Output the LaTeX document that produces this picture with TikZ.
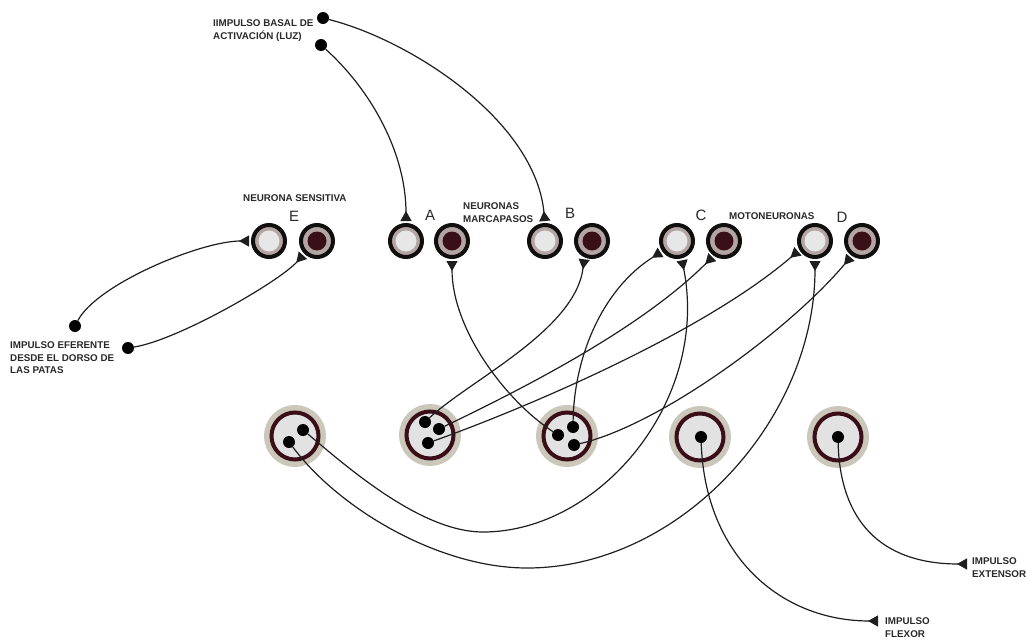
\documentclass[tikz,border=0pt]{standalone}
\usepackage{fontspec}
\setmainfont{Liberation Sans}
\usetikzlibrary{arrows.meta}
\definecolor{NEUROink}{RGB}{30,30,30}
\definecolor{NEUROring}{RGB}{17,14,14}
\definecolor{NEUROmauve}{RGB}{180,165,165}
\definecolor{NEUROpale}{RGB}{232,231,231}
\definecolor{NEUROdark}{RGB}{58,16,24}
\definecolor{MOTOhalo}{RGB}{203,199,187}
\definecolor{MOTOcore}{RGB}{226,226,226}
\definecolor{MOTOring}{RGB}{58,14,22}
\definecolor{TXTgray}{RGB}{40,40,40}

\begin{document}
\begin{tikzpicture}[x=1pt,y=-1pt,
    cell/.style={circle,inner sep=0pt,minimum size=32pt,line width=4pt,draw=NEUROring,fill=NEUROmauve},
    lightcell/.style={cell,path picture={\fill[NEUROpale] (path picture bounding box.center) circle (10.5pt);}},
    darkcell/.style={cell,path picture={\fill[NEUROdark] (path picture bounding box.center) circle (9.5pt);}},
    motor/.style={circle,inner sep=0pt,minimum size=47pt,line width=4pt,draw=MOTOring,fill=MOTOcore,
        preaction={draw=MOTOhalo,line width=15pt}},
    bouton/.style={circle,inner sep=0pt,minimum size=12pt,fill=black},
    syn/.style={draw=NEUROink,line width=1.2pt,-{Triangle[reversed,length=10pt,width=11pt]},shorten >=2pt},
    lbl/.style={font=\fontsize{9.8}{12.5}\selectfont\bfseries,text=TXTgray,align=left,inner sep=0pt},
    letter/.style={font=\fontsize{15}{15}\selectfont,text=TXTgray,inner sep=0pt}]
    \useasboundingbox (0,0) rectangle (1026,642);

    \node[lightcell] (El) at (269,241) {};
    \node[darkcell] (Ed) at (317,241) {};
    \node[lightcell] (Al) at (406,241) {};
    \node[darkcell] (Ad) at (452,241) {};
    \node[lightcell] (Bl) at (545,241) {};
    \node[darkcell] (Bd) at (592,241) {};
    \node[lightcell] (Cl) at (677,241) {};
    \node[darkcell] (Cd) at (724,241) {};
    \node[lightcell] (Dl) at (815,241) {};
    \node[darkcell] (Dd) at (862,241) {};

    \node[letter] (tE) at (294,216) {E};
    \node[letter] (tA) at (430,215) {A};
    \node[letter] (tB) at (570,213) {B};
    \node[letter] (tC) at (701,215) {C};
    \node[letter] (tD) at (842,217) {D};

    \node[motor] (M1) at (295,436) {};
    \node[motor] (M2) at (430,435) {};
    \node[motor] (M3) at (567,436) {};
    \node[motor] (M4) at (700,437) {};
    \node[motor] (M5) at (838,437) {};

    \node[bouton] (m1a) at (289,442) {};
    \node[bouton] (m1b) at (303,430) {};
    \node[bouton] (m2a) at (425,422) {};
    \node[bouton] (m2b) at (439,429) {};
    \node[bouton] (m2c) at (428,443) {};
    \node[bouton] (m3a) at (558,435) {};
    \node[bouton] (m3b) at (573,427) {};
    \node[bouton] (m3c) at (574,445) {};
    \node[bouton] (m4) at (701,437) {};
    \node[bouton] (m5) at (838,437) {};

    \node[bouton] (luzB) at (323,18) {};
    \node[bouton] (luzA) at (321,45) {};
    \node[bouton] (patasE) at (75,326) {};
    \node[bouton] (patasD) at (128,348) {};
    \coordinate (flx) at (878,621);
    \coordinate (ext) at (967,564);

    \node[lbl,anchor=north west] (luzlbl) at (213,19.5) {IIMPULSO BASAL DE\\ACTIVACIÓN (LUZ)};
    \node[lbl,anchor=west] (senslbl) at (243,198) {NEURONA SENSITIVA};
    \node[lbl,anchor=north west] (marclbl) at (463,202.5) {NEURONAS\\MARCAPASOS};
    \node[lbl,anchor=west] (motolbl) at (729,216) {MOTONEURONAS};
    \node[lbl,anchor=north west] (efelbl) at (10,341.5) {IMPULSO EFERENTE\\DESDE EL DORSO DE\\LAS PATAS};
    \node[lbl,anchor=north west] (extlbl) at (972,557.5) {IMPULSO\\EXTENSOR};
    \node[lbl,anchor=north west] (flxlbl) at (885,617.5) {IMPULSO\\FLEXOR};

    \draw[syn] (luzA) .. controls +(50,45) and +(0,-70) .. (Al.north);
    \draw[syn] (luzB) .. controls +(87,22) and +(-10,-103) .. (Bl.north);
    \draw[syn] (patasE) .. controls +(22,-42) and +(-50,0) .. (El.west);
    \draw[syn] (patasD) .. controls +(50,-8) and +(-25,28) .. (Ed.225);
    \draw[syn] (m3a) .. controls +(-53,-35) and +(0,70) .. (Ad.south);
    \draw[syn] (m2a) .. controls +(45,-42) and +(-9,73) .. (Bd.245);
    \draw[syn] (m3b) .. controls +(1,-67) and +(-62,39) .. (Cl.215);
    \draw[syn] (m1b) .. controls +(42,35) and +(-63,0) .. (483,532) .. controls +(117,0) and +(28,142) .. (Cl.285);
    \draw[syn] (m2b) .. controls +(81,-39) and +(-74,74) .. (Cd.235);
    \draw[syn] (m2c) .. controls +(92,-33) and +(-99,85) .. (Dl.210);
    \draw[syn] (m1a) .. controls +(51,68) and +(-87,0) .. (527,568) .. controls +(153,0) and +(0,161) .. (Dl.south);
    \draw[syn] (m3c) .. controls +(86,-20) and +(-62,74) .. (Dd.235);
    \draw[syn,shorten >=0pt] (m4) .. controls +(4,118) and +(-98,0) .. (flx);
    \draw[syn,shorten >=0pt] (m5) .. controls +(2,83) and +(-87,0) .. (ext);
\end{tikzpicture}
\end{document}
